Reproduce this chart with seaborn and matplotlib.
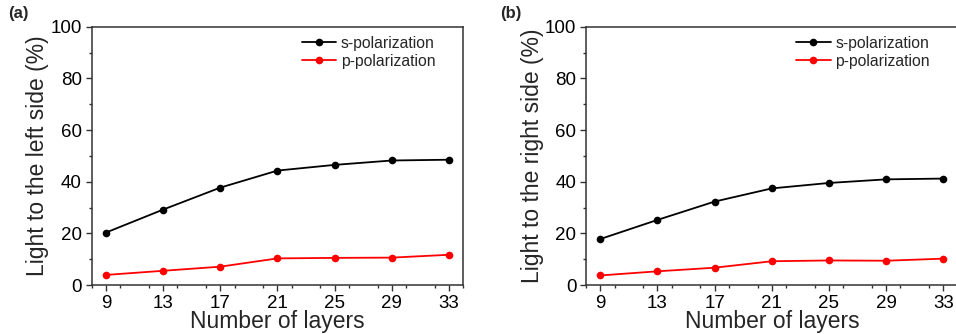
import matplotlib
matplotlib.use('Agg')
import matplotlib.pyplot as plt
from matplotlib.ticker import MultipleLocator
import numpy as np
import pandas as pd
import seaborn as sns

# values
layers = [9, 13, 17, 21, 25, 29, 33]
left_s = [20.3, 29.2, 37.7, 44.3, 46.5, 48.2, 48.5]
left_p = [3.9, 5.5, 7.1, 10.3, 10.5, 10.6, 11.7]
right_s = [17.8, 25.2, 32.3, 37.4, 39.5, 40.9, 41.2]
right_p = [3.7, 5.3, 6.7, 9.2, 9.5, 9.4, 10.2]
series_names = ['s-polarization', 'p-polarization']
ylabels = ['Light to the left side (%)', 'Light to the right side (%)']
panel_tags = ['(a)', '(b)']

sns.set_style('ticks')
plt.rcParams['font.family'] = ['Liberation Sans', 'DejaVu Sans']
plt.rcParams['axes.edgecolor'] = '#333333'
plt.rcParams['xtick.color'] = '#333333'
plt.rcParams['ytick.color'] = '#333333'
plt.rcParams['xtick.labelcolor'] = 'black'
plt.rcParams['ytick.labelcolor'] = 'black'

def make_frame(s_vals, p_vals):
    rows = []
    for name, vals in zip(series_names, [s_vals, p_vals]):
        for x, v in zip(layers, vals):
            rows.append({'layers': x, 'value': v, 'pol': name})
    return pd.DataFrame(rows)

fig = plt.figure(figsize=(9.56, 3.34), dpi=100)
fig.patch.set_facecolor('white')
axes_pos = [[0.0959, 0.1467, 0.3887, 0.7734], [0.613, 0.1467, 0.3887, 0.7734]]
tag_pos = [(0.008, 0.945), (0.523, 0.945)]
data_sets = [(left_s, left_p), (right_s, right_p)]
palette = {'s-polarization': 'black', 'p-polarization': 'red'}

for i in range(2):
    ax = fig.add_axes(axes_pos[i])
    df = make_frame(*data_sets[i])
    sns.lineplot(data=df, x='layers', y='value', hue='pol', palette=palette,
                 marker='o', markersize=5.5, markeredgewidth=0, linewidth=1.3, ax=ax)
    ax.set_xlim(8, 34)
    ax.set_ylim(0, 100)
    ax.set_xticks(layers)
    ax.xaxis.set_minor_locator(MultipleLocator(2))
    ax.yaxis.set_major_locator(MultipleLocator(20))
    ax.yaxis.set_minor_locator(MultipleLocator(10))
    ax.tick_params(which='major', direction='out', length=4, width=1, labelsize=13.5, pad=3)
    ax.tick_params(which='minor', direction='out', length=2.5, width=1)
    for sp in ax.spines.values():
        sp.set_linewidth(1.1)
    ax.set_xlabel('Number of layers', fontsize=16.5, labelpad=-1)
    ax.set_ylabel(ylabels[i], fontsize=16.5, labelpad=1)
    ax.legend(title=None, loc='upper left', bbox_to_anchor=(0.565, 0.965), frameon=False,
              fontsize=11.3, handlelength=2.2, handletextpad=0.3, labelspacing=0.2,
              borderpad=0, borderaxespad=0)
    fig.text(tag_pos[i][0], tag_pos[i][1], panel_tags[i], fontsize=12, fontweight='bold')

fig.savefig('out.png', dpi=100)
